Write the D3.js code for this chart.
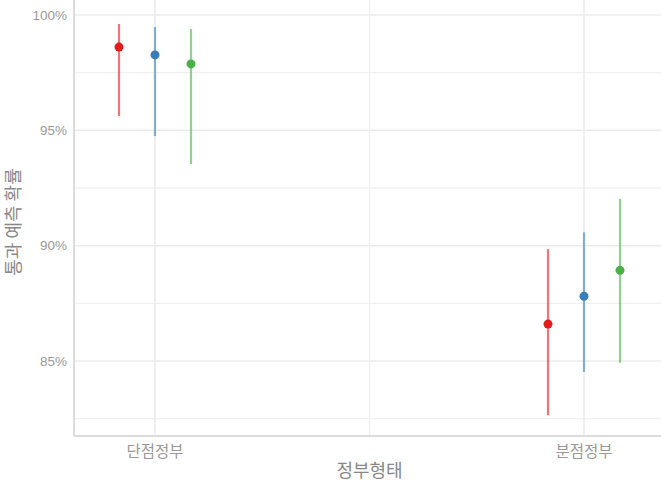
<!DOCTYPE html>
<html>
<head>
<meta charset="utf-8">
<script src="https://cdn.jsdelivr.net/npm/d3@7"></script>
<style>
body{margin:0;background:#fff;}
text{font-family:"Noto Sans CJK KR","Noto Sans",sans-serif;}
text.num{font-family:"Liberation Sans",Arial,sans-serif;}
</style>
</head>
<body>
<script>
// 정부형태 범주
var categories = ["단점정부", "분점정부"];
// 계열 (색 구분)
var seriesNames = ["s1", "s2", "s3"];
var seriesColors = ["#E41A1C", "#377EB8", "#4DAF4A"];
// 예측 확률 (점추정, 하한, 상한) - 범주별, 계열별
var estimate = [[98.61, 98.27, 97.88], [86.60, 87.81, 88.93]];
var lower    = [[95.62, 94.75, 93.54], [82.65, 84.53, 84.92]];
var upper    = [[99.61, 99.48, 99.39], [89.85, 90.58, 92.03]];
var yTicks = [85, 90, 95, 100];
var yMinor = [82.5, 87.5, 92.5, 97.5];

var W = 661, H = 486;
var pLeft = 74, pTop = 0, pRight = 661, pBottom = 436;

var svg = d3.select("body").append("svg")
    .attr("width", W).attr("height", H);

var y = d3.scaleLinear().domain([81.75, 100.65]).range([pBottom, pTop]);
var x = d3.scalePoint().domain(categories).range([155, 584]);
// dodge 위치
var dodge = d3.scalePoint().domain(seriesNames).range([-36, 36]);

var grid = svg.append("g");
// 가로 보조선
grid.selectAll("line.minor").data(yMinor).enter().append("line")
    .attr("x1", pLeft).attr("x2", pRight)
    .attr("y1", d => y(d)).attr("y2", d => y(d))
    .attr("stroke", "#f0f0f0").attr("stroke-width", 1.3);
grid.selectAll("line.major").data(yTicks).enter().append("line")
    .attr("x1", pLeft).attr("x2", pRight)
    .attr("y1", d => y(d)).attr("y2", d => y(d))
    .attr("stroke", "#ebebeb").attr("stroke-width", 1.5);

// 세로 격자
grid.selectAll("line.v").data(categories).enter().append("line")
    .attr("x1", d => x(d)).attr("x2", d => x(d))
    .attr("y1", pTop).attr("y2", pBottom)
    .attr("stroke", "#ebebeb").attr("stroke-width", 1.5);
var mid = (x(categories[0]) + x(categories[1])) / 2;
grid.append("line")
    .attr("x1", mid).attr("x2", mid)
    .attr("y1", pTop).attr("y2", pBottom)
    .attr("stroke", "#f0f0f0").attr("stroke-width", 1.3);

// 축선
svg.append("line").attr("x1", pLeft).attr("x2", pLeft).attr("y1", pTop).attr("y2", pBottom)
    .attr("stroke", "#dcdcdc").attr("stroke-width", 2);
svg.append("line").attr("x1", pLeft).attr("x2", pRight).attr("y1", pBottom).attr("y2", pBottom)
    .attr("stroke", "#dcdcdc").attr("stroke-width", 2);

// y 축 눈금 라벨
svg.selectAll("text.yt").data(yTicks).enter().append("text")
    .attr("class", "num")
    .attr("x", pLeft - 7).attr("y", d => y(d)).attr("dy", "0.35em")
    .attr("text-anchor", "end").attr("fill", "#999")
    .style("font-size", "13.5px").text(d => d + "%");

// x 축 눈금 라벨
svg.selectAll("text.xt").data(categories).enter().append("text")
    .attr("x", d => x(d)).attr("y", 457)
    .attr("text-anchor", "middle").attr("fill", "#999")
    .style("font-size", "15.5px").text(d => d);

// 축 제목
svg.append("text").attr("x", mid).attr("y", 477)
    .attr("text-anchor", "middle").attr("fill", "#888")
    .style("font-size", "18px").text("정부형태");
svg.append("text")
    .attr("transform", "translate(20," + ((pTop + pBottom) / 2 + 4) + ") rotate(-90)")
    .attr("text-anchor", "middle").attr("fill", "#888")
    .style("font-size", "18px").text("통과 예측 확률");

// 오차 막대와 점
categories.forEach(function(c, i) {
    seriesNames.forEach(function(s, j) {
        var px = x(c) + dodge(s);
        svg.append("line")
            .attr("x1", px).attr("x2", px)
            .attr("y1", y(lower[i][j])).attr("y2", y(upper[i][j]))
            .attr("stroke", seriesColors[j]).attr("stroke-opacity", 0.6)
            .attr("stroke-width", 2.2);
        svg.append("circle")
            .attr("cx", px).attr("cy", y(estimate[i][j])).attr("r", 4.5)
            .attr("fill", seriesColors[j]);
    });
});
</script>
</body>
</html>
